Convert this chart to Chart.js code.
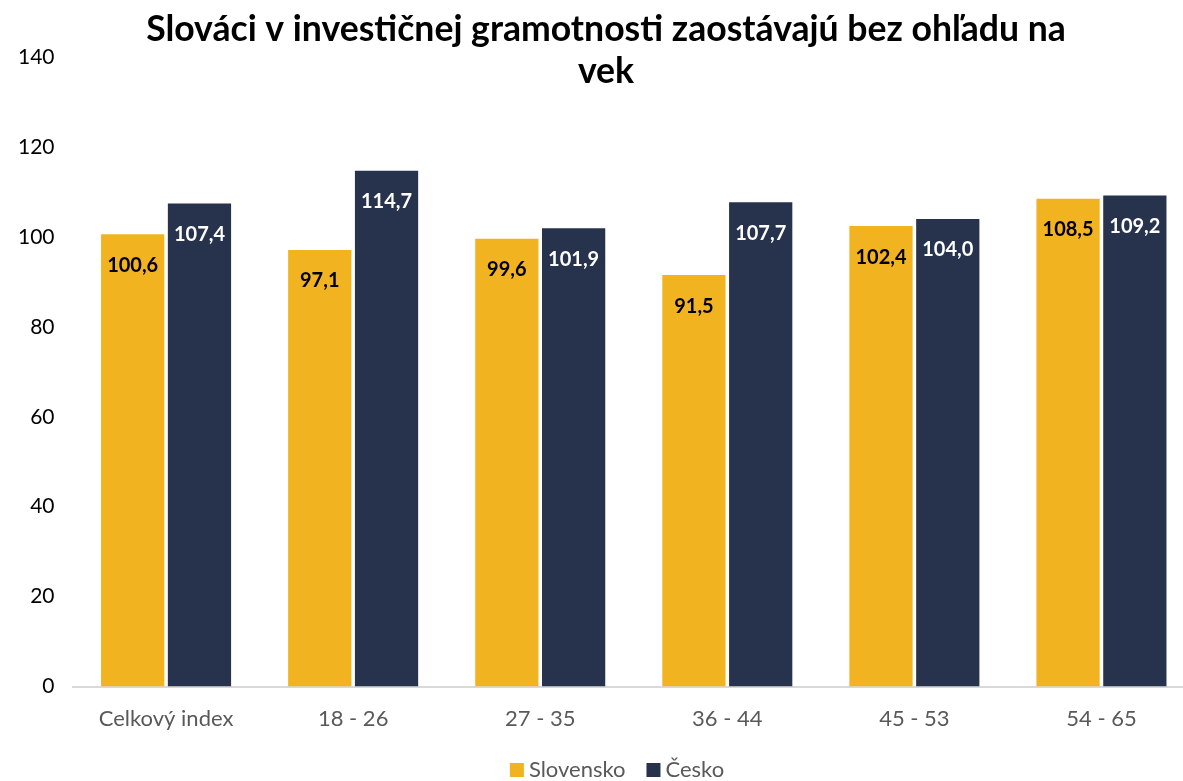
<!DOCTYPE html>
<html lang="sk">
<head>
<meta charset="UTF-8">
<title>Slováci v investičnej gramotnosti</title>
<script src="https://cdn.jsdelivr.net/npm/chart.js"></script>
<style>
  body { margin: 0; background: #fff; overflow: hidden; }
  /* plot runs a little past the right edge, like the original */
  #wrap { width: 1195px; height: 781px; position: relative; }
</style>
</head>
<body>
<div id="wrap"><canvas id="chart"></canvas></div>
<script>
const categories = ['Celkový index', '18 - 26', '27 - 35', '36 - 44', '45 - 53', '54 - 65'];
const slovensko = [100.6, 97.1, 99.6, 91.5, 102.4, 108.5];
const cesko = [107.4, 114.7, 101.9, 107.7, 104.0, 109.2];
const titleLines = ['Slováci v investičnej gramotnosti zaostávajú bez ohľadu na', 'vek'];

const FONT = 'Lato, "Noto Sans", sans-serif';

// title drawn over the chart (it overlaps the top of the plot like in the original)
const titlePlugin = {
  id: 'titleOverlay',
  afterDraw(chart) {
    const ctx = chart.ctx;
    ctx.save();
    ctx.font = 'bold 35.6px ' + FONT;
    ctx.fillStyle = '#000';
    ctx.textAlign = 'center';
    ctx.textBaseline = 'middle';
    titleLines.forEach((t, i) => ctx.fillText(t, 606, 30 + i * 42));
    ctx.restore();
  }
};

// legend at the very bottom, centred under the visible part
const legendPlugin = {
  id: 'bottomLegend',
  afterDraw(chart) {
    const ctx = chart.ctx;
    const box = 14, gap = 5, itemGap = 21, y = 770;
    ctx.save();
    ctx.font = '22px ' + FONT;
    ctx.textBaseline = 'middle';
    const items = chart.data.datasets.map(ds => ({ text: ds.label, color: ds.backgroundColor, w: ctx.measureText(ds.label).width }));
    let total = items.reduce((s, it) => s + box + gap + it.w, 0) + itemGap * (items.length - 1);
    let x = 617 - total / 2;
    items.forEach(it => {
      ctx.fillStyle = it.color;
      ctx.fillRect(x, y - box / 2, box, box);
      x += box + gap;
      ctx.fillStyle = '#595959';
      ctx.fillText(it.text, x, y);
      x += it.w + itemGap;
    });
    ctx.restore();
  }
};

// value labels inside the top of each bar
const labelPlugin = {
  id: 'barLabels',
  afterDatasetsDraw(chart) {
    const ctx = chart.ctx;
    ctx.save();
    ctx.font = 'bold 20px ' + FONT;
    ctx.textAlign = 'center';
    ctx.textBaseline = 'middle';
    chart.data.datasets.forEach((ds, i) => {
      const meta = chart.getDatasetMeta(i);
      ctx.fillStyle = i === 0 ? '#000' : '#fff';
      meta.data.forEach((bar, j) => {
        const txt = ds.data[j].toFixed(1).replace('.', ',');
        ctx.fillText(txt, bar.x, bar.y + 31);
      });
    });
    ctx.restore();
  }
};

new Chart(document.getElementById('chart'), {
  type: 'bar',
  data: {
    labels: categories,
    datasets: [
      { label: 'Slovensko', data: slovensko, backgroundColor: '#F2B320' },
      { label: 'Česko', data: cesko, backgroundColor: '#27324D' }
    ]
  },
  options: {
    responsive: true,
    maintainAspectRatio: false,
    animation: false,
    categoryPercentage: 0.714,
    barPercentage: 0.947,
    layout: { padding: { top: 57, left: 0, right: 0, bottom: 30 } },
    plugins: {
      title: { display: false },
      tooltip: { enabled: false },
      legend: { display: false }
    },
    scales: {
      x: {
        grid: { display: false, drawTicks: false },
        border: { display: true, color: '#D9D9D9', width: 2 },
        ticks: { color: '#595959', padding: 19, font: { family: FONT, size: 22 } }
      },
      y: {
        min: 0, max: 140,
        grid: { display: false, drawTicks: false },
        border: { display: false },
        ticks: { stepSize: 20, color: '#000', padding: 18, font: { family: FONT, size: 21 } }
      }
    }
  },
  plugins: [titlePlugin, labelPlugin, legendPlugin]
});
</script>
</body>
</html>
